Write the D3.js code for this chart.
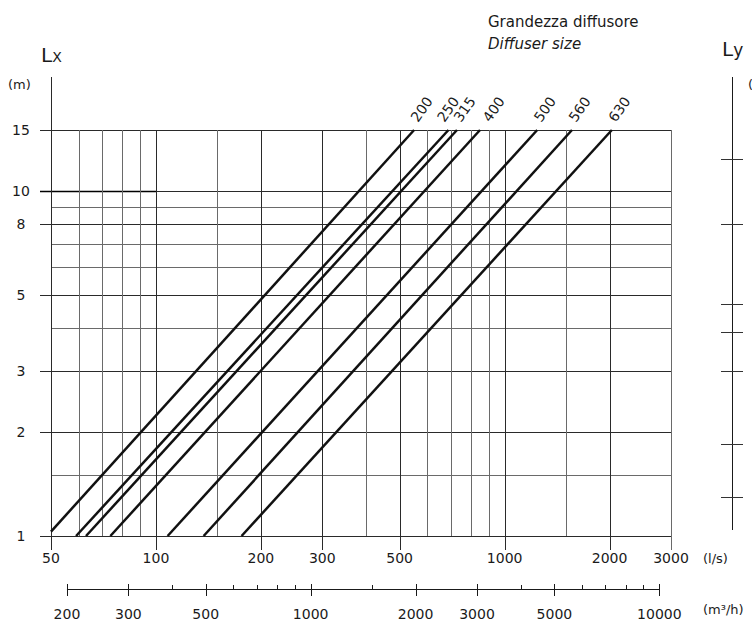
<!DOCTYPE html>
<html>
<head>
<meta charset="utf-8">
<script src="https://cdn.jsdelivr.net/npm/d3@7/dist/d3.min.js"></script>
<style>
  html, body { margin: 0; padding: 0; background: #fff; }
  svg { display: block; font-family: "DejaVu Sans", Verdana, sans-serif; }
</style>
</head>
<body>
<svg id="chart" width="752" height="625"></svg>
<script>
// ---- data ----
const flowGrid = [50, 60, 70, 80, 90, 100, 150, 200, 300, 400, 500, 600, 700, 800, 900, 1000, 1500, 2000, 3000];
const flowLabels = [50, 100, 200, 300, 500, 1000, 2000, 3000];
const m3hMajor = [200, 300, 500, 1000, 2000, 3000, 5000, 10000];
const m3hMinor = [400, 600, 700, 800, 900, 1500, 4000, 6000, 7000, 8000, 9000];
const lengthGrid = [1, 1.5, 2, 3, 4, 5, 6, 7, 8, 9, 10, 15];
const lengthLabels = [1, 2, 3, 5, 8, 10, 15];
const lyTicks = [12.4, 8, 4.7, 3.9, 3, 1.85, 1.3];
const sizes = ["200", "250", "315", "400", "500", "560", "630"];
const qStart = [50, 59, 63, 74, 108, 137, 176];
const lStart = [1.03, 1, 1, 1, 1, 1, 1];
const qEnd = [550, 690, 730, 850, 1240, 1560, 2030];
const lEnd = [15, 15, 15, 15, 15, 15, 15];

// ---- scales ----
const x = d3.scaleLog().domain([50, 3000]).range([51, 671]);
const y = d3.scaleLog().domain([1, 15]).range([536, 130]);
const xm = v => x(v / 3.6);

const svg = d3.select("#chart");
const ink = "#1a1a1a";
const grey = "#6a6a6a";

// horizontal grid
svg.append("g").selectAll("line").data(lengthGrid).join("line")
  .attr("x1", d => lengthLabels.includes(d) ? 40 : 51)
  .attr("x2", x(3000))
  .attr("y1", d => Math.round(y(d)) + 0.5)
  .attr("y2", d => Math.round(y(d)) + 0.5)
  .attr("stroke", d => lengthLabels.includes(d) ? "#2a2a2a" : grey)
  .attr("stroke-width", 1);
// darker short segment on the 10 m line
svg.append("line").attr("x1", 40).attr("x2", x(100))
  .attr("y1", Math.round(y(10)) + 0.5).attr("y2", Math.round(y(10)) + 0.5)
  .attr("stroke", "#000").attr("stroke-width", 1.4);

// vertical grid
svg.append("g").selectAll("line").data(flowGrid).join("line")
  .attr("x1", d => Math.round(x(d)) + 0.5)
  .attr("x2", d => Math.round(x(d)) + 0.5)
  .attr("y1", d => d === 50 ? 77 : y(15))
  .attr("y2", d => flowLabels.includes(d) ? 550 : y(1))
  .attr("stroke", d => (flowLabels.includes(d) && d !== 3000) ? "#2a2a2a" : grey)
  .attr("stroke-width", 1);

// y labels
svg.append("g").selectAll("text").data(lengthLabels).join("text")
  .attr("x", 21).attr("y", d => y(d) + 5)
  .attr("text-anchor", "middle").attr("font-size", 14).attr("fill", ink)
  .text(d => d);

// x labels (l/s)
svg.append("g").selectAll("text").data(flowLabels).join("text")
  .attr("x", d => x(d)).attr("y", 563)
  .attr("text-anchor", "middle").attr("font-size", 14).attr("fill", ink)
  .text(d => d);

svg.append("text").attr("x", 703).attr("y", 563).attr("font-size", 13).attr("fill", ink).text("(l/s)");

// m3/h axis
const m3 = svg.append("g");
m3.append("line").attr("x1", xm(200)).attr("x2", xm(10000)).attr("y1", 589.5).attr("y2", 589.5)
  .attr("stroke", ink).attr("stroke-width", 1);
m3.selectAll(".maj").data(m3hMajor).join("line").attr("class", "maj")
  .attr("x1", d => Math.round(xm(d)) + 0.5).attr("x2", d => Math.round(xm(d)) + 0.5)
  .attr("y1", 584).attr("y2", 596).attr("stroke", ink);
m3.selectAll(".min").data(m3hMinor).join("line").attr("class", "min")
  .attr("x1", d => Math.round(xm(d)) + 0.5).attr("x2", d => Math.round(xm(d)) + 0.5)
  .attr("y1", 585).attr("y2", 590).attr("stroke", ink);
m3.selectAll("text").data(m3hMajor).join("text")
  .attr("x", d => xm(d)).attr("y", 619)
  .attr("text-anchor", "middle").attr("font-size", 14).attr("fill", ink)
  .text(d => d);
svg.append("text").attr("x", 703).attr("y", 614).attr("font-size", 13).attr("fill", ink).text("(m³/h)");

// Lx title
const lx = svg.append("text").attr("x", 41).attr("y", 62).attr("fill", ink);
lx.append("tspan").attr("font-size", 20).text("L");
lx.append("tspan").attr("font-size", 14).text("X");
svg.append("text").attr("x", 8).attr("y", 89).attr("font-size", 13).attr("fill", ink).text("(m)");

// Ly axis
const ly = svg.append("g");
ly.append("line").attr("x1", 732.5).attr("x2", 732.5).attr("y1", 77).attr("y2", 530).attr("stroke", ink);
ly.selectAll("line.t").data(lyTicks).join("line").attr("class", "t")
  .attr("x1", 721).attr("x2", 743)
  .attr("y1", d => Math.round(y(d)) + 0.5).attr("y2", d => Math.round(y(d)) + 0.5)
  .attr("stroke", "#333");
const lyt = svg.append("text").attr("x", 722).attr("y", 56).attr("fill", ink);
lyt.append("tspan").attr("font-size", 20).text("L");
lyt.append("tspan").attr("font-size", 17).text("y");
svg.append("text").attr("x", 748).attr("y", 89).attr("font-size", 13).attr("fill", ink).text("(");

// titles
svg.append("text").attr("x", 488).attr("y", 27).attr("font-size", 15).attr("fill", ink).text("Grandezza diffusore");
svg.append("text").attr("x", 488).attr("y", 49).attr("font-size", 15).attr("font-style", "italic").attr("fill", ink).text("Diffuser size");

// diffuser lines
const series = sizes.map((s, i) => ({ size: s, pts: [[qStart[i], lStart[i]], [qEnd[i], lEnd[i]]] }));
const line = d3.line().x(d => x(d[0])).y(d => y(d[1]));
svg.append("g").selectAll("path").data(series).join("path")
  .attr("d", d => line(d.pts))
  .attr("fill", "none").attr("stroke", "#111").attr("stroke-width", 2.5);

// size labels
const shift = { "250": -8, "400": 6 };
svg.append("g").selectAll("text").data(series).join("text")
  .attr("transform", d => {
    const p = d.pts[1];
    const px = x(p[0]) + 4 + (shift[d.size] || 0);
    const py = y(p[1]) - 7;
    return `translate(${px},${py}) rotate(-55)`;
  })
  .attr("font-size", 14).attr("fill", ink)
  .text(d => d.size);
</script>
</body>
</html>
